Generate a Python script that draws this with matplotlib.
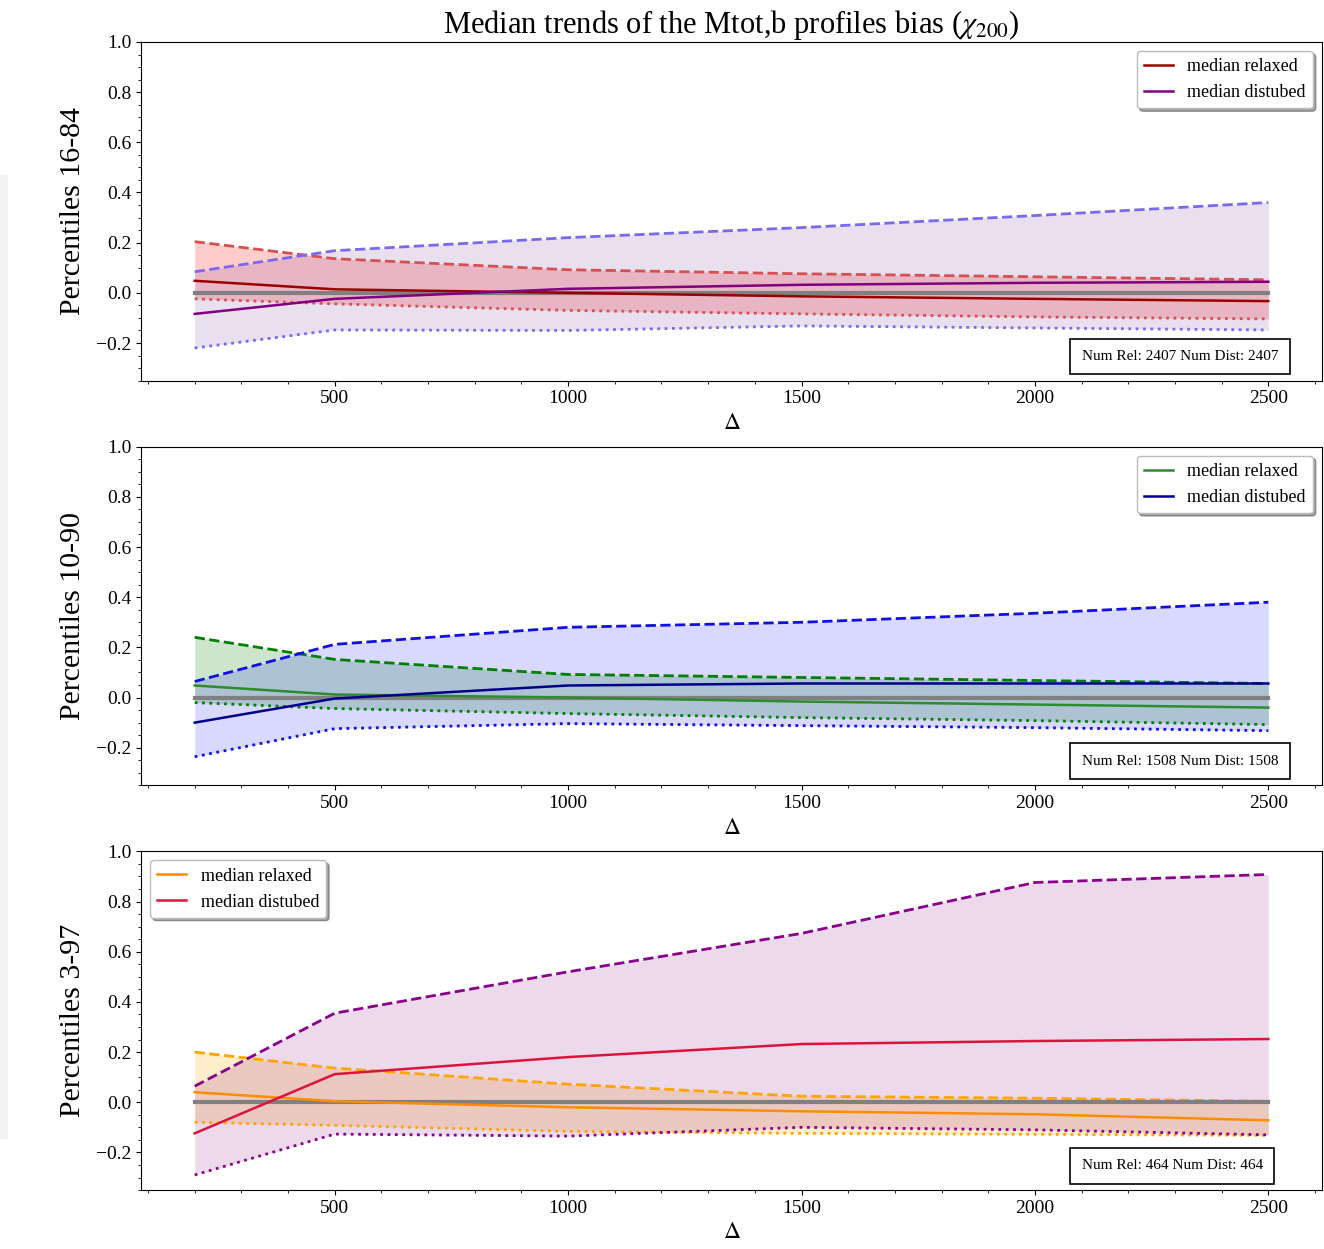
import numpy as np
import matplotlib
matplotlib.use("Agg", force=True)
import matplotlib.pyplot as plt
from matplotlib.ticker import AutoMinorLocator, MultipleLocator
from matplotlib.patches import Rectangle

plt.rcParams['font.family'] = ['Liberation Serif', 'DejaVu Serif']
plt.rcParams['mathtext.fontset'] = 'stix'

# overdensity values on the x axis
delta = [200, 500, 1000, 1500, 2000, 2500]

# panel 1: percentiles 16-84
p1_rel_med = [0.048, 0.014, 0.0, -0.014, -0.024, -0.033]
p1_rel_hi = [0.204, 0.136, 0.092, 0.076, 0.064, 0.052]
p1_rel_lo = [-0.024, -0.044, -0.070, -0.084, -0.096, -0.104]
p1_dis_med = [-0.084, -0.024, 0.016, 0.032, 0.040, 0.044]
p1_dis_hi = [0.084, 0.168, 0.220, 0.260, 0.308, 0.360]
p1_dis_lo = [-0.220, -0.148, -0.150, -0.132, -0.140, -0.148]

# panel 2: percentiles 10-90
p2_rel_med = [0.048, 0.012, 0.0, -0.016, -0.028, -0.040]
p2_rel_hi = [0.240, 0.152, 0.092, 0.080, 0.068, 0.056]
p2_rel_lo = [-0.020, -0.044, -0.064, -0.080, -0.092, -0.108]
p2_dis_med = [-0.100, -0.004, 0.048, 0.056, 0.056, 0.056]
p2_dis_hi = [0.064, 0.212, 0.280, 0.300, 0.336, 0.380]
p2_dis_lo = [-0.236, -0.124, -0.104, -0.112, -0.120, -0.132]

# panel 3: percentiles 3-97
p3_rel_med = [0.040, 0.004, -0.020, -0.036, -0.048, -0.072]
p3_rel_hi = [0.200, 0.136, 0.072, 0.024, 0.016, 0.004]
p3_rel_lo = [-0.080, -0.092, -0.116, -0.124, -0.128, -0.132]
p3_dis_med = [-0.124, 0.112, 0.180, 0.232, 0.244, 0.252]
p3_dis_hi = [0.064, 0.355, 0.520, 0.673, 0.876, 0.908]
p3_dis_lo = [-0.290, -0.127, -0.135, -0.100, -0.110, -0.130]

ylabels = ['Percentiles 16-84', 'Percentiles 10-90', 'Percentiles 3-97']
counts = [2407, 1508, 464]

panels = [
    dict(rel=(p1_rel_med, p1_rel_hi, p1_rel_lo), dis=(p1_dis_med, p1_dis_hi, p1_dis_lo),
         c_rel_med='#9b0000', c_rel='#d65050', f_rel='red',
         c_dis_med='#800080', c_dis='#7b68ee', f_dis='#663399', loc='upper right'),
    dict(rel=(p2_rel_med, p2_rel_hi, p2_rel_lo), dis=(p2_dis_med, p2_dis_hi, p2_dis_lo),
         c_rel_med='#2e8b2e', c_rel='green', f_rel='green',
         c_dis_med='#00008b', c_dis='#1010e0', f_dis='blue', loc='upper right'),
    dict(rel=(p3_rel_med, p3_rel_hi, p3_rel_lo), dis=(p3_dis_med, p3_dis_hi, p3_dis_lo),
         c_rel_med='darkorange', c_rel='orange', f_rel='orange',
         c_dis_med='crimson', c_dis='#8b008b', f_dis='purple', loc='upper left'),
]

fig, axes = plt.subplots(3, 1, figsize=(13.24, 12.49), dpi=100)
fig.subplots_adjust(left=0.1065, right=0.9985, top=0.9664, bottom=0.0472, hspace=0.195)

for ax, p, yl, n in zip(axes, panels, ylabels, counts):
    rmed, rhi, rlo = p['rel']
    dmed, dhi, dlo = p['dis']
    ax.fill_between(delta, rlo, rhi, color=p['f_rel'], alpha=0.2, lw=0)
    ax.fill_between(delta, dlo, dhi, color=p['f_dis'], alpha=0.15, lw=0)
    ax.plot(delta, rhi, '--', color=p['c_rel'], lw=2)
    ax.plot(delta, rlo, ':', color=p['c_rel'], lw=2)
    ax.plot(delta, dhi, '--', color=p['c_dis'], lw=2)
    ax.plot(delta, dlo, ':', color=p['c_dis'], lw=2)
    ax.plot(delta, [0] * len(delta), color='gray', lw=3)
    ax.plot(delta, rmed, color=p['c_rel_med'], lw=1.8, label='median relaxed')
    ax.plot(delta, dmed, color=p['c_dis_med'], lw=1.8, label='median distubed')

    ax.set_ylim(-0.35, 1.0)
    ax.set_yticks([-0.2, 0.0, 0.2, 0.4, 0.6, 0.8, 1.0])
    ax.yaxis.set_minor_locator(AutoMinorLocator(4))
    ax.xaxis.set_major_locator(MultipleLocator(500))
    ax.xaxis.set_minor_locator(MultipleLocator(100))
    ax.tick_params(labelsize=14)
    ax.set_ylabel(yl, fontsize=21.5, labelpad=7)
    ax.set_xlabel(r'$\Delta$', fontsize=17)

    ax.legend(loc=p['loc'], fontsize=13, fancybox=True, shadow=True,
              framealpha=1, edgecolor='#bbbbbb', handlelength=1.6)
    ax.text(0.7964, 0.052, f'Num Rel: {n} Num Dist: {n}', transform=ax.transAxes,
            ha='left', va='bottom', fontsize=11,
            bbox=dict(boxstyle='square,pad=0.75', fc='white', ec='black', lw=1.2))

axes[0].set_title(r'Median trends of the Mtot,b profiles bias ($\chi_{200}$)', fontsize=22, pad=2)

# light strip along the left edge of the original screenshot
fig.patches.append(Rectangle((0, 0.088), 0.006, 0.772, transform=fig.transFigure,
                             fc='#f3f3f3', ec='none'))

fig.savefig('out.png', dpi=100)
